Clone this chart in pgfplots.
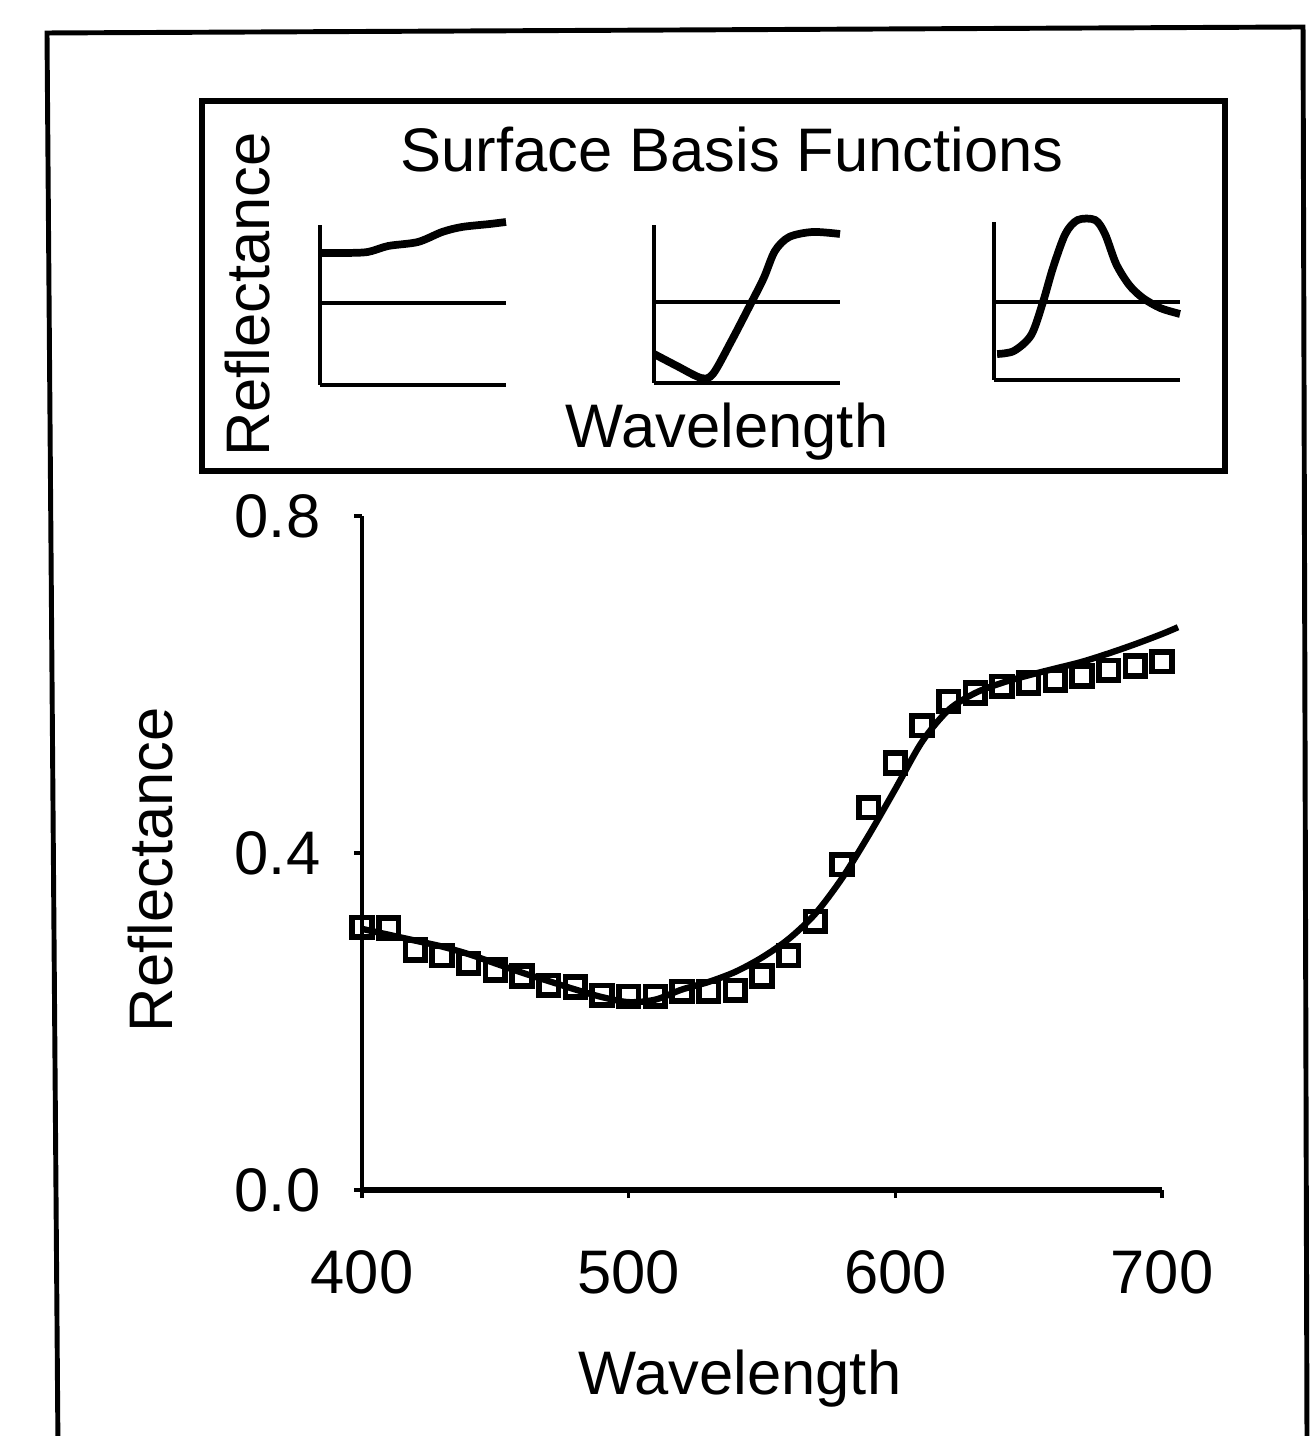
\documentclass[border=0pt]{standalone}
\usepackage{fontspec}
\setmainfont{Liberation Sans}
\usepackage{pgfplots}
\pgfplotsset{compat=1.18}
\newcommand{\fs}{\fontsize{17.5}{21}\selectfont}

\pgfplotstableread{
x y
400 0.312
410 0.311
420 0.285
430 0.278
440 0.269
450 0.261
460 0.254
470 0.243
480 0.241
490 0.231
500 0.230
510 0.230
520 0.236
530 0.236
540 0.237
550 0.254
560 0.278
570 0.319
580 0.386
590 0.454
600 0.507
610 0.551
620 0.580
630 0.590
640 0.598
650 0.602
660 0.605
670 0.610
680 0.617
690 0.622
700 0.627
}\measured

\pgfplotstableread{
x y
400 0.310
410 0.303
420 0.296
430 0.289
440 0.280
450 0.269
460 0.258
470 0.248
480 0.238
490 0.229
500 0.223
510 0.226
520 0.238
530 0.247
540 0.259
550 0.276
560 0.298
570 0.328
580 0.370
590 0.421
600 0.476
610 0.532
620 0.570
630 0.590
640 0.602
650 0.611
660 0.619
670 0.627
680 0.637
690 0.648
700 0.660
706 0.668
}\fitted

\pgfplotstableread{
x y
403 50
440 50
477 51
510 57
558 61
597 71
629 76
674 79
700 81
}\basisA

\pgfplotstableread{
x y
400 -52
437 -64
476 -76
495 -72
524 -40
555 -3
577 24
595 51
618 65
656 70
700 68
}\basisB

\pgfplotstableread{
x y
405 -52
432 -49
460 -33
479 0
495 34
515 68
535 82
563 82
579 68
597 38
618 17
640 4
668 -6
694 -11
700 -12
}\basisC

\pgfplotsset{
  basis/.style={
    scale only axis, width=1.86cm,
    xmin=400, xmax=700,
    axis x line=bottom, axis y line=left,
    axis line style={-, line width=1.3pt},
    xtick=\empty, ytick=\empty,
    clip=false,
  },
}

\begin{document}
\begin{tikzpicture}
\useasboundingbox (0,0) rectangle (13.13,-14.36);
\clip (0,0) rectangle (13.13,-14.36);

% outer frame
\draw[line width=1.4pt] (0.58,-14.5) -- (0.47,-0.33) -- (13.03,-0.27) -- (13.07,-14.5);
% inset box
\draw[line width=1.5pt] (2.02,-1.01) rectangle (12.25,-4.71);

\node[font=\fs, anchor=base] at (7.32,-1.72) {Surface Basis Functions};
\node[font=\fs, anchor=base] at (7.27,-4.48) {Wavelength};
\node[font=\fs, anchor=base, rotate=90] at (2.69,-2.945) {Reflectance};

% basis functions
\begin{axis}[basis, height=1.60cm, ymin=-82, ymax=78,
  at={(3.20cm,-3.85cm)}, anchor=south west]
  \draw[line width=1.3pt] (axis cs:400,0) -- (axis cs:700,0);
  \addplot[black, line width=2.2pt, smooth] table {\basisA};
\end{axis}
\begin{axis}[basis, height=1.58cm, ymin=-81, ymax=77,
  at={(6.54cm,-3.83cm)}, anchor=south west]
  \draw[line width=1.3pt] (axis cs:400,0) -- (axis cs:700,0);
  \addplot[black, line width=2.2pt, smooth] table {\basisB};
\end{axis}
\begin{axis}[basis, height=1.58cm, ymin=-78, ymax=80,
  at={(9.94cm,-3.80cm)}, anchor=south west]
  \draw[line width=1.3pt] (axis cs:400,0) -- (axis cs:700,0);
  \addplot[black, line width=2.2pt, smooth] table {\basisC};
\end{axis}

% main plot
\begin{axis}[
  scale only axis, width=8cm, height=6.74cm,
  at={(3.62cm,-11.90cm)}, anchor=south west,
  xmin=400, xmax=700, ymin=0, ymax=0.8,
  axis x line=bottom, axis y line=left,
  x axis line style={-, line width=1.7pt},
  y axis line style={-, line width=1.2pt},
  xtick={400,500,600,700}, ytick={0,0.4,0.8},
  tick align=outside, major tick length=0.08cm,
  tick style={black, line width=1pt},
  /pgf/number format/assume math mode=true,
  yticklabel={\pgfmathprintnumber[fixed, fixed zerofill, precision=1]{\tick}},
  xticklabel style={font=\fs, inner sep=0pt, anchor=north, yshift=-0.52cm},
  yticklabel style={font=\fs, inner sep=0pt, anchor=east, xshift=-0.33cm},
  xlabel={Wavelength}, ylabel={Reflectance},
  every axis x label/.style={at={(axis description cs:0.4725,-0.304)}, anchor=base, font=\fs},
  every axis y label/.style={at={(axis description cs:-0.2375,0.475)}, anchor=base, rotate=90, font=\fs},
  clip=false,
]
  \addplot[black, line width=1.8pt, smooth, no marks] table {\fitted};
  \addplot[black, only marks, mark=square, mark size=2.8pt, mark options={line width=1.6pt}] table {\measured};
\end{axis}
\end{tikzpicture}
\end{document}
